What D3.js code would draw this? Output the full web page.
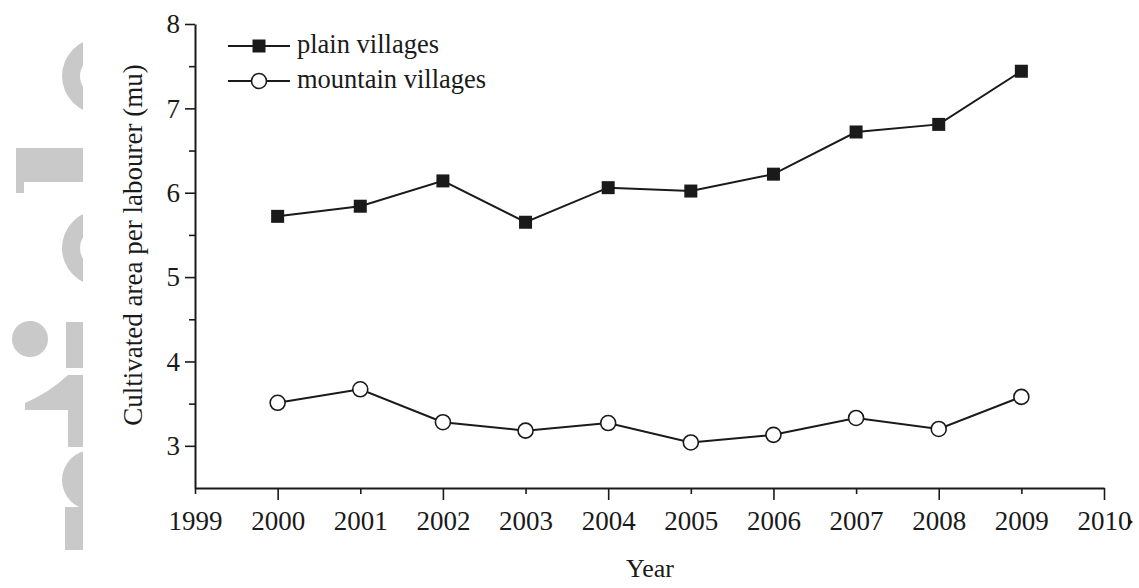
<!DOCTYPE html>
<html>
<head>
<meta charset="utf-8">
<script src="https://cdn.jsdelivr.net/npm/d3@7"></script>
<style>
  body { margin: 0; background: #fff; }
  svg { display: block; }
  text { font-family: "Liberation Serif", "DejaVu Serif", serif; fill: #1a1a1a; }
</style>
</head>
<body>
<svg id="chart" width="1139" height="588"></svg>
<script>
// values
const years = [2000, 2001, 2002, 2003, 2004, 2005, 2006, 2007, 2008, 2009];
const plainVillages = [5.72, 5.84, 6.14, 5.65, 6.06, 6.02, 6.22, 6.72, 6.81, 7.44];
const mountainVillages = [3.51, 3.67, 3.28, 3.18, 3.27, 3.04, 3.13, 3.33, 3.20, 3.58];
const xTicks = [1999, 2000, 2001, 2002, 2003, 2004, 2005, 2006, 2007, 2008, 2009, 2010];
const yTicks = [3, 4, 5, 6, 7, 8];
const yMinorTicks = [3.5, 4.5, 5.5, 6.5, 7.5];
const seriesNames = ["plain villages", "mountain villages"];

const svg = d3.select("#chart");
const ink = "#1a1a1a";

const x = d3.scaleLinear().domain([1999, 2010]).range([195, 1104]);
const y = d3.scaleLinear().domain([2.5, 8]).range([488, 24]);

// grey watermark shapes at the left edge (clipped)
svg.append("clipPath").attr("id", "wm")
  .append("rect").attr("x", 0).attr("y", 0).attr("width", 83).attr("height", 588);
const wm = svg.append("g").attr("clip-path", "url(#wm)").attr("fill", "#c9c9c9");
const ring = d3.arc().innerRadius(20).outerRadius(38).startAngle(0).endAngle(2 * Math.PI);
wm.append("path").attr("d", ring()).attr("transform", "translate(100,76)");
wm.append("path").attr("d", ring()).attr("transform", "translate(100,248)");
wm.append("rect").attr("x", 16).attr("y", 148).attr("width", 70).attr("height", 34);
wm.append("rect").attr("x", 16).attr("y", 180).attr("width", 8).attr("height", 13);
wm.append("circle").attr("cx", 30).attr("cy", 339).attr("r", 18);
wm.append("rect").attr("x", 66).attr("y", 322).attr("width", 20).attr("height", 46);
wm.append("path").attr("d", "M25,403 Q50,392 68,375 L86,375 L86,447 L68,447 L68,410 L25,410 Z");
wm.append("circle").attr("cx", 92).attr("cy", 480).attr("r", 30);
wm.append("rect").attr("x", 65).attr("y", 507).attr("width", 20).attr("height", 43);

// x axis
const xAxis = svg.append("g")
  .attr("transform", `translate(0,${y(2.5)})`)
  .call(d3.axisBottom(x).tickValues(xTicks).tickFormat(d3.format("d"))
    .tickSize(12).tickSizeOuter(0).tickPadding(11));
xAxis.selectAll(".tick line").filter(d => d % 2 === 1).attr("y2", 6);

// y axis
const yAxis = svg.append("g")
  .attr("transform", `translate(${x(1999)},0)`)
  .call(d3.axisLeft(y).tickValues(yTicks).tickFormat(d3.format("d"))
    .tickSize(10).tickSizeOuter(0).tickPadding(5));
svg.append("g")
  .attr("transform", `translate(${x(1999)},0)`)
  .call(d3.axisLeft(y).tickValues(yMinorTicks).tickFormat("").tickSize(6).tickSizeOuter(0))
  .select(".domain").remove();

svg.selectAll(".domain").attr("stroke", ink).attr("stroke-width", 2);
svg.selectAll(".tick line").attr("stroke", ink).attr("stroke-width", 1.6);
svg.selectAll(".tick text").attr("font-size", 27).attr("fill", ink)
  .style("font-family", "'Liberation Serif', serif");

// small mark after the last x label
svg.append("path").attr("d", "M1128,518 L1133,522 L1128,526 Z").attr("fill", ink);

// axis titles
svg.append("text")
  .attr("x", 650).attr("y", 577)
  .attr("text-anchor", "middle").attr("font-size", 26)
  .text("Year");
svg.append("text")
  .attr("transform", "translate(142,245) rotate(-90)")
  .attr("text-anchor", "middle").attr("font-size", 27)
  .text("Cultivated area per labourer (mu)");

// lines
const line = d3.line().x(d => x(d[0])).y(d => y(d[1]));
const plainData = years.map((yr, i) => [yr, plainVillages[i]]);
const mountainData = years.map((yr, i) => [yr, mountainVillages[i]]);

svg.append("path").datum(plainData).attr("d", line)
  .attr("fill", "none").attr("stroke", ink).attr("stroke-width", 2);
svg.append("path").datum(mountainData).attr("d", line)
  .attr("fill", "none").attr("stroke", ink).attr("stroke-width", 2);

const sq = 13;
svg.append("g").selectAll("rect").data(plainData).join("rect")
  .attr("x", d => x(d[0]) - sq / 2).attr("y", d => y(d[1]) - sq / 2)
  .attr("width", sq).attr("height", sq).attr("fill", ink);

svg.append("g").selectAll("circle").data(mountainData).join("circle")
  .attr("cx", d => x(d[0])).attr("cy", d => y(d[1])).attr("r", 7.5)
  .attr("fill", "#fff").attr("stroke", ink).attr("stroke-width", 1.6);

// legend
const legend = svg.append("g");
const rows = [46, 81];
rows.forEach((ly, i) => {
  legend.append("line").attr("x1", 228).attr("x2", 290).attr("y1", ly).attr("y2", ly)
    .attr("stroke", ink).attr("stroke-width", 2);
  if (i === 0) {
    legend.append("rect").attr("x", 259 - sq / 2).attr("y", ly - sq / 2)
      .attr("width", sq).attr("height", sq).attr("fill", ink);
  } else {
    legend.append("circle").attr("cx", 259).attr("cy", ly).attr("r", 7.5)
      .attr("fill", "#fff").attr("stroke", ink).attr("stroke-width", 1.6);
  }
  legend.append("text").attr("x", 297).attr("y", ly + 7)
    .attr("font-size", 26.5).text(seriesNames[i]);
});
</script>
</body>
</html>
